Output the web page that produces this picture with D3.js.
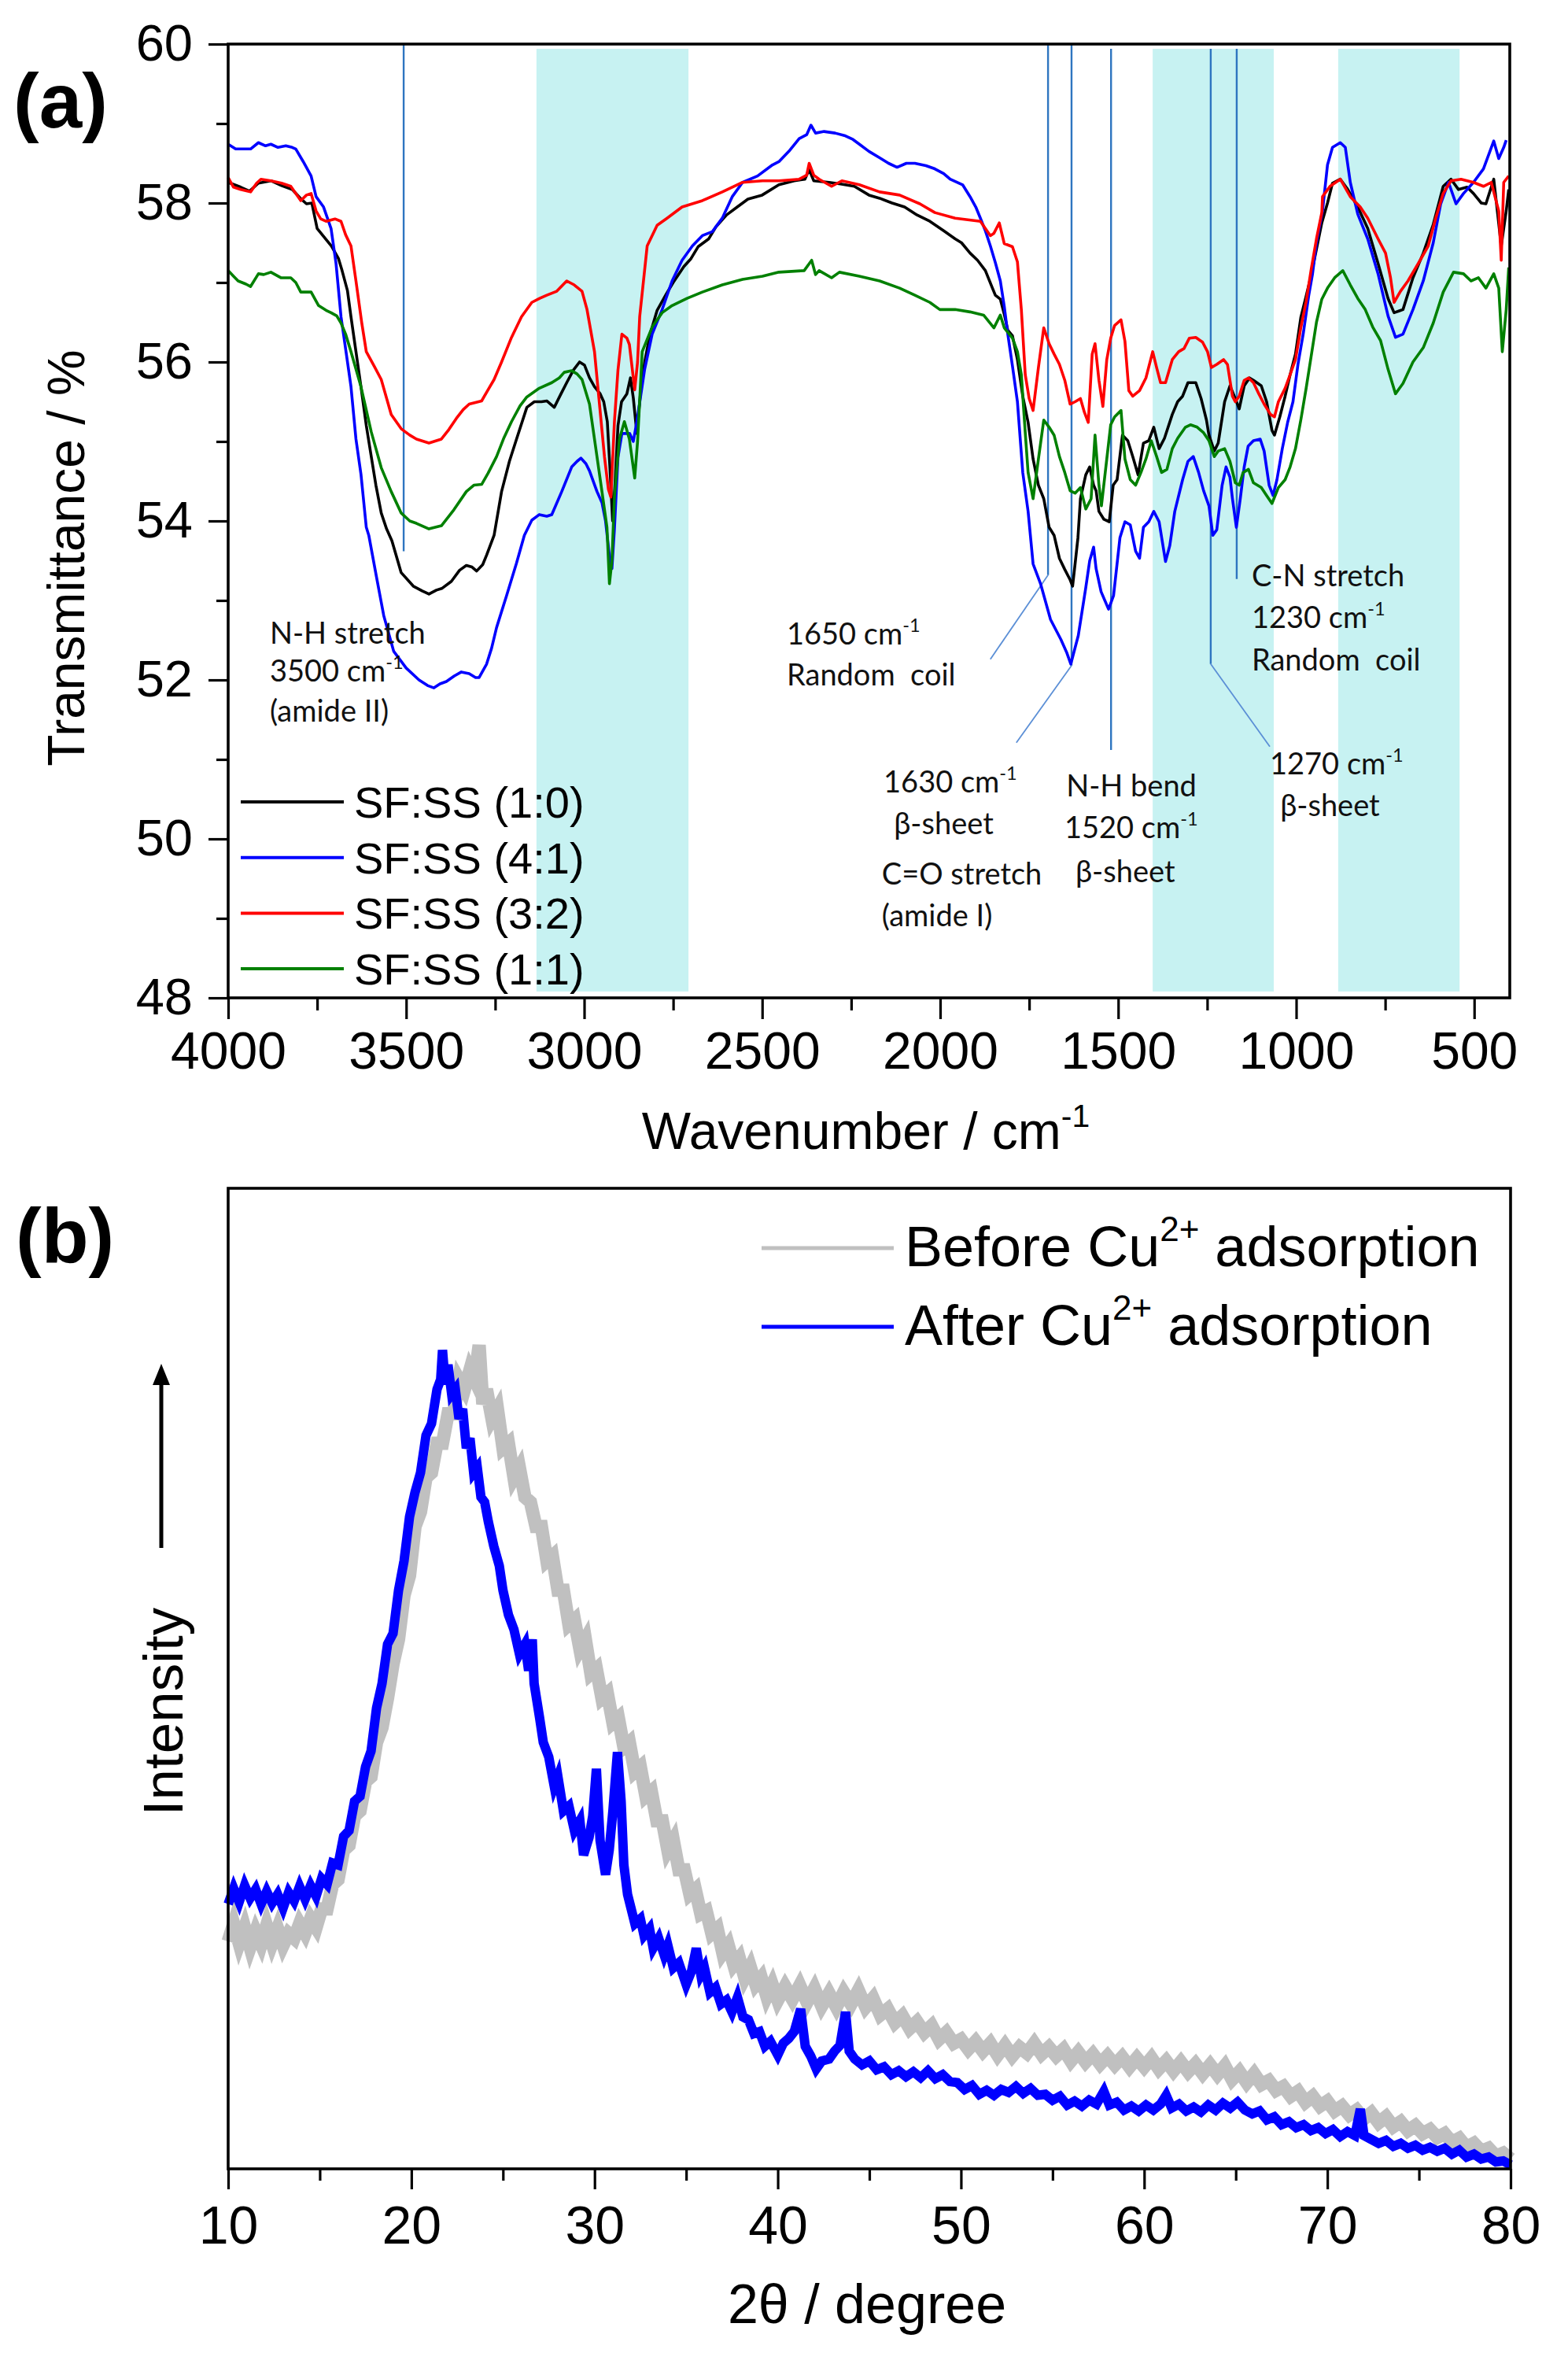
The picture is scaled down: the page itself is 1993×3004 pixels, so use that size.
<!DOCTYPE html>
<html><head><meta charset="utf-8">
<script src="https://cdn.jsdelivr.net/npm/d3@7"></script>
<style>body{margin:0;background:#fff}</style>
</head><body>
<svg id="c" width="1993" height="3004" xmlns="http://www.w3.org/2000/svg"></svg>
<script>
// ---------------- DATA: panel (a) FTIR ----------------
const ftirXTicks = [4000,3500,3000,2500,2000,1500,1000,500];
const ftirXMinor = [3750,3250,2750,2250,1750,1250,750];
const ftirYTicks = [48,50,52,54,56,58,60];
const ftirYMinor = [49,51,53,55,57,59];
const ftirNames = ["SF:SS (1:0)","SF:SS (4:1)","SF:SS (3:2)","SF:SS (1:1)"];
const ftirBands = [[3134,2707],[1403,1063],[882,541]];

const ftirBlack = [[4000,58.26],[3965,58.2],[3940,58.15],[3915,58.25],[3880,58.28],[3850,58.22],[3820,58.17],[3795,58.05],[3780,57.99],[3765,58.0],[3750,57.68],[3710,57.46],[3690,57.3],[3680,57.15],[3665,56.9],[3655,56.57],[3640,56.1],[3627,55.69],[3612,55.2],[3598,54.81],[3585,54.45],[3570,54.1],[3555,53.9],[3540,53.75],[3514,53.35],[3480,53.18],[3455,53.12],[3436,53.08],[3415,53.13],[3400,53.15],[3373,53.24],[3350,53.38],[3331,53.44],[3315,53.42],[3302,53.37],[3285,53.45],[3274,53.57],[3253,53.82],[3232,54.37],[3210,54.75],[3190,55.03],[3161,55.43],[3140,55.5],[3120,55.5],[3105,55.51],[3084,55.43],[3065,55.6],[3049,55.74],[3030,55.9],[3013,56.0],[2999,55.96],[2985,55.8],[2971,55.69],[2955,55.6],[2945,55.5],[2935,55.25],[2928,54.7],[2920,54.0],[2913,54.5],[2905,55.2],[2895,55.5],[2880,55.6],[2870,55.8],[2862,55.55],[2852,55.1],[2842,55.6],[2830,56.0],[2815,56.35],[2795,56.65],[2770,56.85],[2750,57.0],[2720,57.2],[2700,57.3],[2680,57.45],[2650,57.55],[2630,57.7],[2600,57.85],[2570,57.95],[2540,58.05],[2500,58.1],[2453,58.23],[2410,58.28],[2380,58.3],[2368,58.42],[2355,58.28],[2312,58.26],[2280,58.24],[2241,58.21],[2200,58.1],[2170,58.06],[2135,58.0],[2100,57.95],[2065,57.85],[2029,57.77],[1990,57.65],[1958,57.55],[1940,57.5],[1916,57.37],[1895,57.28],[1873,57.15],[1855,56.95],[1845,56.84],[1831,56.79],[1820,56.6],[1810,56.4],[1797,56.33],[1783,56.03],[1768,55.57],[1753,55.24],[1739,54.78],[1724,54.45],[1709,54.28],[1694,53.92],[1680,53.82],[1665,53.53],[1650,53.39],[1635,53.26],[1628,53.18],[1621,53.46],[1613,53.79],[1606,54.28],[1591,54.58],[1580,54.68],[1569,54.45],[1562,54.38],[1554,54.12],[1540,54.02],[1525,53.99],[1514,54.45],[1503,54.52],[1488,55.08],[1473,55.01],[1459,54.81],[1444,54.58],[1429,54.98],[1414,55.01],[1400,55.18],[1385,54.91],[1370,55.04],[1348,55.34],[1333,55.5],[1319,55.57],[1304,55.74],[1282,55.74],[1267,55.54],[1252,55.27],[1245,55.08],[1230,54.88],[1219,54.98],[1201,55.5],[1186,55.7],[1171,55.54],[1160,55.41],[1146,55.7],[1131,55.8],[1120,55.77],[1098,55.7],[1083,55.5],[1068,55.14],[1061,55.08],[1046,55.31],[1031,55.57],[1017,55.84],[1002,56.1],[987,56.56],[972,56.83],[958,57.09],[943,57.42],[928,57.75],[912,58.0],[898,58.25],[876,58.3],[855,58.17],[827,57.95],[799,57.68],[770,57.24],[742,56.8],[725,56.62],[700,56.66],[672,57.06],[643,57.37],[615,57.73],[587,58.21],[565,58.3],[544,58.17],[520,58.2],[502,58.12],[480,58.0],[467,57.99],[445,58.3],[435,57.9],[424,57.46],[410,57.9],[403,58.17]];

const ftirBlue = [[4000,58.74],[3979,58.68],[3955,58.68],[3937,58.68],[3915,58.76],[3895,58.72],[3880,58.74],[3860,58.7],[3838,58.72],[3820,58.7],[3810,58.68],[3789,58.52],[3767,58.34],[3753,58.08],[3732,57.95],[3711,57.68],[3697,57.24],[3683,56.57],[3669,56.13],[3655,55.69],[3641,55.03],[3627,54.59],[3612,53.92],[3605,53.82],[3584,53.31],[3563,52.81],[3535,52.36],[3500,52.15],[3464,52.0],[3440,51.93],[3422,51.9],[3405,51.95],[3387,51.98],[3365,52.05],[3345,52.1],[3323,52.08],[3305,52.03],[3295,52.03],[3274,52.2],[3260,52.4],[3246,52.66],[3218,53.06],[3190,53.47],[3168,53.82],[3147,54.01],[3126,54.08],[3105,54.06],[3091,54.08],[3063,54.37],[3035,54.68],[3020,54.75],[3009,54.79],[2995,54.72],[2985,54.63],[2964,54.37],[2950,54.23],[2940,54.0],[2930,53.6],[2922,53.4],[2915,53.9],[2905,54.8],[2894,55.1],[2872,55.1],[2862,55.0],[2852,55.25],[2830,55.91],[2809,56.35],[2781,56.66],[2753,57.02],[2725,57.28],[2696,57.46],[2668,57.59],[2640,57.64],[2612,57.81],[2584,58.08],[2555,58.26],[2513,58.34],[2471,58.48],[2453,58.52],[2425,58.65],[2396,58.81],[2375,58.86],[2363,58.98],[2350,58.88],[2326,58.9],[2295,58.88],[2269,58.85],[2245,58.8],[2227,58.74],[2200,58.65],[2170,58.57],[2145,58.5],[2121,58.45],[2095,58.5],[2071,58.5],[2040,58.47],[2015,58.43],[1990,58.37],[1972,58.3],[1937,58.23],[1916,58.08],[1900,57.95],[1887,57.81],[1873,57.65],[1859,57.46],[1845,57.25],[1831,57.02],[1820,56.7],[1810,56.35],[1797,55.95],[1783,55.5],[1768,54.61],[1753,54.12],[1739,53.46],[1718,53.21],[1690,52.76],[1661,52.51],[1645,52.35],[1633,52.2],[1612,52.56],[1591,53.16],[1580,53.5],[1569,53.67],[1562,53.4],[1548,53.11],[1527,52.89],[1513,53.06],[1495,53.79],[1481,53.99],[1466,53.95],[1451,53.62],[1440,53.53],[1429,53.92],[1414,53.99],[1400,54.12],[1385,53.99],[1367,53.49],[1355,53.69],[1341,54.12],[1319,54.52],[1304,54.75],[1289,54.81],[1274,54.61],[1260,54.38],[1245,54.19],[1234,53.82],[1223,53.89],[1208,54.45],[1197,54.68],[1186,54.55],[1179,54.28],[1168,53.92],[1157,54.28],[1146,54.68],[1135,54.94],[1120,55.01],[1101,55.03],[1090,54.88],[1076,54.45],[1065,54.32],[1054,54.52],[1039,54.91],[1024,55.24],[1009,55.5],[995,55.97],[980,56.36],[965,56.83],[954,57.11],[943,57.5],[926,57.9],[912,58.48],[898,58.7],[876,58.76],[862,58.7],[848,58.26],[827,57.86],[799,57.55],[770,57.11],[742,56.58],[721,56.31],[700,56.35],[672,56.66],[643,57.02],[615,57.5],[594,57.99],[572,58.26],[551,57.99],[530,58.12],[502,58.26],[474,58.43],[445,58.78],[431,58.56],[417,58.7],[410,58.79]];

const ftirRed = [[4000,58.32],[3985,58.2],[3965,58.17],[3937,58.14],[3920,58.25],[3908,58.3],[3880,58.28],[3850,58.25],[3824,58.21],[3796,58.03],[3780,58.1],[3767,58.12],[3753,57.9],[3740,57.8],[3725,57.77],[3700,57.8],[3683,57.77],[3670,57.6],[3655,57.46],[3641,57.02],[3625,56.5],[3612,56.13],[3590,55.95],[3570,55.78],[3542,55.34],[3514,55.16],[3490,55.08],[3471,55.03],[3436,54.98],[3401,55.03],[3380,55.15],[3359,55.29],[3340,55.4],[3323,55.47],[3288,55.51],[3270,55.65],[3253,55.78],[3232,56.0],[3204,56.31],[3176,56.57],[3147,56.75],[3125,56.8],[3105,56.84],[3077,56.89],[3049,57.02],[3028,56.97],[3006,56.89],[2992,56.66],[2971,56.13],[2957,55.47],[2943,54.81],[2932,54.4],[2925,54.3],[2915,55.25],[2905,55.9],[2894,56.35],[2880,56.3],[2873,56.22],[2858,55.65],[2850,56.0],[2844,56.57],[2823,57.46],[2795,57.72],[2767,57.81],[2725,57.95],[2668,58.03],[2612,58.14],[2555,58.26],[2499,58.28],[2453,58.28],[2396,58.3],[2375,58.35],[2368,58.5],[2355,58.35],[2340,58.3],[2305,58.21],[2276,58.28],[2227,58.23],[2170,58.14],[2114,58.1],[2057,57.99],[2015,57.88],[1958,57.81],[1887,57.77],[1859,57.59],[1849,57.62],[1834,57.75],[1820,57.49],[1797,57.45],[1783,57.26],[1772,56.66],[1761,55.84],[1750,55.54],[1739,55.39],[1724,55.93],[1709,56.43],[1694,56.23],[1680,56.1],[1665,55.97],[1650,55.77],[1635,55.47],[1621,55.5],[1606,55.54],[1595,55.37],[1584,55.24],[1573,56.1],[1565,56.23],[1554,55.77],[1543,55.44],[1532,56.03],[1521,56.3],[1510,56.46],[1492,56.53],[1481,56.26],[1470,55.64],[1459,55.57],[1440,55.64],[1422,55.8],[1403,56.13],[1392,55.93],[1381,55.74],[1367,55.74],[1348,56.03],[1330,56.13],[1315,56.17],[1300,56.3],[1282,56.31],[1263,56.25],[1249,56.13],[1238,55.93],[1223,55.97],[1204,56.03],[1193,55.97],[1179,55.57],[1171,55.5],[1160,55.57],[1146,55.77],[1134,55.8],[1120,55.74],[1105,55.6],[1090,55.47],[1072,55.34],[1061,55.31],[1050,55.5],[1031,55.67],[1017,55.84],[1002,56.03],[987,56.43],[972,56.76],[958,57.16],[943,57.55],[928,57.88],[926,58.08],[905,58.21],[876,58.3],[848,58.08],[820,57.95],[799,57.81],[770,57.55],[749,57.37],[735,57.06],[725,56.75],[707,56.89],[686,57.02],[657,57.24],[629,57.46],[608,57.81],[587,58.12],[565,58.28],[537,58.3],[502,58.26],[474,58.21],[452,58.26],[431,57.9],[424,57.28],[417,58.26],[403,58.34]];

const ftirGreen = [[4000,57.15],[3985,57.08],[3972,57.02],[3950,56.98],[3937,56.95],[3915,57.11],[3900,57.1],[3880,57.13],[3852,57.06],[3824,57.06],[3810,57.0],[3796,56.88],[3767,56.88],[3746,56.71],[3725,56.65],[3711,56.62],[3695,56.58],[3683,56.49],[3670,56.35],[3655,56.13],[3627,55.69],[3598,55.12],[3570,54.67],[3542,54.37],[3514,54.1],[3490,54.0],[3471,53.97],[3436,53.9],[3401,53.94],[3366,54.14],[3331,54.37],[3310,54.45],[3288,54.46],[3270,54.6],[3246,54.81],[3225,55.05],[3204,55.25],[3180,55.45],[3161,55.56],[3126,55.67],[3091,55.74],[3070,55.8],[3056,55.87],[3035,55.89],[3020,55.85],[3006,55.78],[2985,55.47],[2964,54.81],[2950,54.37],[2936,53.92],[2929,53.21],[2922,53.5],[2915,54.3],[2901,55.03],[2887,55.25],[2873,55.03],[2858,54.54],[2850,55.0],[2837,56.13],[2809,56.44],[2781,56.62],[2753,56.71],[2711,56.8],[2668,56.88],[2612,56.97],[2555,57.04],[2499,57.08],[2453,57.13],[2382,57.15],[2361,57.28],[2350,57.1],[2340,57.15],[2305,57.06],[2283,57.13],[2227,57.08],[2170,57.02],[2114,56.93],[2071,56.84],[2029,56.75],[2001,56.66],[1958,56.66],[1916,56.63],[1878,56.59],[1849,56.43],[1831,56.59],[1820,56.43],[1797,56.3],[1783,56.13],[1772,55.84],[1761,55.11],[1753,54.61],[1739,54.28],[1724,54.78],[1709,55.27],[1694,55.18],[1680,55.08],[1665,54.81],[1650,54.61],[1635,54.38],[1621,54.35],[1606,54.42],[1591,54.15],[1576,54.28],[1565,55.08],[1554,54.45],[1547,54.19],[1532,54.78],[1521,55.21],[1510,55.31],[1492,55.39],[1481,54.78],[1466,54.52],[1451,54.45],[1436,54.61],[1422,54.78],[1407,55.01],[1392,54.81],[1378,54.61],[1363,54.65],[1348,54.91],[1333,55.04],[1311,55.18],[1297,55.21],[1278,55.18],[1260,55.11],[1245,55.01],[1230,54.81],[1219,54.88],[1201,54.91],[1186,54.75],[1171,54.48],[1160,54.45],[1149,54.61],[1134,54.65],[1120,54.48],[1098,54.42],[1083,54.32],[1068,54.22],[1050,54.42],[1031,54.52],[1017,54.68],[1002,54.91],[987,55.27],[972,55.67],[958,56.07],[943,56.5],[928,56.79],[912,56.93],[892,57.06],[869,57.15],[848,56.97],[827,56.8],[806,56.66],[785,56.44],[763,56.27],[742,55.91],[721,55.6],[700,55.73],[672,56.0],[643,56.18],[615,56.49],[587,56.88],[558,57.13],[530,57.11],[509,57.02],[488,57.06],[467,56.93],[445,57.11],[431,56.93],[421,56.13],[410,56.66],[403,57.19]];

// marker lines (wavenumber, top T, bottom T, optional leader end)
const ftirMarkers = [
  {wn:3507, top:60, bottom:53.62},
  {wn:1697, top:60, bottom:53.32, lead:[1859,52.26]},
  {wn:1631, top:60, bottom:52.18, lead:[1786,51.21]},
  {wn:1520, top:59.94, bottom:51.12},
  {wn:1240, top:59.94, bottom:52.2, lead:[1074,51.16]},
  {wn:1167, top:59.94, bottom:53.27}
];
// annotation texts: [text, wavenumber, transmittance]  ("^" starts superscript)
const ftirNotes = [
  ["N-H stretch",3883,52.46],["3500 cm^-1",3883,51.98],["(amide II)",3883,51.48],
  ["1650 cm^-1",2431,52.45],["Random  coil",2431,51.93],
  ["1630 cm^-1",2159,50.58],["\u03B2-sheet",2130,50.06],["C=O stretch",2164,49.43],["(amide I)",2164,48.90],
  ["N-H bend",1646,50.53],["1520 cm^-1",1651,50.01],["\u03B2-sheet",1620,49.46],
  ["C-N stretch",1125,53.18],["1230 cm^-1",1125,52.65],["Random  coil",1125,52.12],
  ["1270 cm^-1",1074,50.81],["\u03B2-sheet",1045,50.29]
];

// ---------------- DATA: panel (b) XRD ----------------
const xrdXTicks = [10,20,30,40,50,60,70,80];
const xrdXMinor = [15,25,35,45,55,65,75];
const xrdNames = ["Before Cu", "After Cu"];
const xrdBefore = [[10.0,23.2],[10.3,25.0],[10.6,23.0],[10.9,24.6],[11.2,22.6],[11.5,24.2],[11.8,22.9],[12.1,24.8],[12.4,23.0],[12.7,24.5],[13.0,22.8],[13.3,24.0],[13.6,23.5],[13.9,25.0],[14.2,24.0],[14.5,25.5],[14.8,24.6],[15.1,26.5],[15.4,26.5],[15.7,29.0],[16.0,29.5],[16.3,32.5],[16.6,33.0],[16.9,36.0],[17.2,36.5],[17.5,39.5],[17.8,40.0],[18.1,43.5],[18.4,45.0],[18.7,48.0],[19.0,51.5],[19.3,54.0],[19.6,58.5],[19.9,60.5],[20.2,65.5],[20.5,67.0],[20.8,70.5],[21.1,71.0],[21.4,74.0],[21.7,74.0],[22.0,77.0],[22.3,77.0],[22.6,80.5],[22.9,79.5],[23.2,81.5],[23.45,80.5],[23.7,84.0],[23.9,78.0],[24.1,79.5],[24.4,76.5],[24.7,77.5],[25.0,73.5],[25.3,74.0],[25.6,70.5],[25.9,71.5],[26.2,68.5],[26.5,68.0],[26.8,65.5],[27.1,65.5],[27.4,62.0],[27.7,62.5],[28.0,59.0],[28.3,59.0],[28.6,55.5],[28.9,56.0],[29.2,53.0],[29.5,54.0],[29.8,50.5],[30.1,51.0],[30.4,48.0],[30.7,48.5],[31.0,45.5],[31.3,46.0],[31.6,43.0],[31.9,43.5],[32.2,40.5],[32.5,41.0],[32.8,38.0],[33.1,38.5],[33.4,35.5],[33.7,35.5],[34.0,32.5],[34.3,33.5],[34.6,30.5],[34.9,30.5],[35.2,28.0],[35.5,28.5],[35.8,26.0],[36.1,26.3],[36.4,24.0],[36.7,24.5],[37.0,22.0],[37.3,22.8],[37.6,20.8],[37.9,21.5],[38.2,19.5],[38.5,20.6],[38.8,18.8],[39.1,19.5],[39.4,17.6],[39.7,18.8],[40.0,17.2],[40.4,18.6],[40.8,17.3],[41.2,18.7],[41.6,17.0],[42.0,18.4],[42.4,16.6],[42.8,17.9],[43.2,16.5],[43.6,18.0],[44.0,16.8],[44.4,18.2],[44.8,16.5],[45.2,17.4],[45.6,15.7],[46.0,16.3],[46.4,14.9],[46.8,15.6],[47.2,14.3],[47.6,15.0],[48.0,13.9],[48.4,14.6],[48.8,13.2],[49.2,13.9],[49.6,12.8],[50.0,13.2],[50.4,12.2],[50.8,13.0],[51.2,12.0],[51.6,12.8],[52.0,11.6],[52.4,12.6],[52.8,11.5],[53.2,12.4],[53.6,11.8],[54.0,12.8],[54.4,11.7],[54.8,12.4],[55.2,11.5],[55.6,12.2],[56.0,11.0],[56.4,11.9],[56.8,10.9],[57.2,11.7],[57.6,10.7],[58.0,11.5],[58.4,10.6],[58.8,11.4],[59.2,10.4],[59.6,11.3],[60.0,10.4],[60.4,11.3],[60.8,10.2],[61.2,11.0],[61.6,10.0],[62.0,10.9],[62.4,9.9],[62.8,10.7],[63.2,9.7],[63.6,10.6],[64.0,9.6],[64.4,10.5],[64.8,9.1],[65.2,9.9],[65.6,8.8],[66.0,9.7],[66.4,8.6],[66.8,9.0],[67.2,8.0],[67.6,8.4],[68.0,7.4],[68.4,7.9],[68.8,6.8],[69.2,7.4],[69.6,6.4],[70.0,6.9],[70.4,5.9],[70.8,6.4],[71.2,5.5],[71.6,6.0],[72.0,5.1],[72.4,5.7],[72.8,4.7],[73.2,5.3],[73.6,4.3],[74.0,4.8],[74.4,3.9],[74.8,4.4],[75.2,3.6],[75.6,4.0],[76.0,3.2],[76.4,3.6],[76.8,2.7],[77.2,3.1],[77.6,2.2],[78.0,2.6],[78.4,1.8],[78.8,2.1],[79.2,1.3],[79.6,1.6],[80.0,1.0]];

const xrdAfter = [[10.0,27.0],[10.3,28.6],[10.6,27.2],[10.9,28.9],[11.2,27.6],[11.5,28.5],[11.8,27.0],[12.1,28.3],[12.4,27.1],[12.7,28.0],[13.0,26.6],[13.3,28.2],[13.6,27.3],[13.9,28.8],[14.2,27.5],[14.5,28.9],[14.8,27.8],[15.1,29.6],[15.4,29.0],[15.7,31.2],[16.0,31.0],[16.3,33.9],[16.6,34.5],[16.9,37.5],[17.2,38.0],[17.5,41.0],[17.8,42.6],[18.1,47.0],[18.4,49.5],[18.7,53.5],[19.0,54.6],[19.3,59.0],[19.6,62.0],[19.9,66.5],[20.2,69.0],[20.5,71.0],[20.8,74.8],[21.1,76.0],[21.4,79.5],[21.6,80.5],[21.7,83.5],[21.85,80.0],[22.0,82.0],[22.2,79.0],[22.4,79.5],[22.6,76.5],[22.8,77.5],[23.0,73.5],[23.2,74.5],[23.4,71.0],[23.6,71.5],[23.8,68.5],[24.0,68.0],[24.2,66.0],[24.5,63.5],[24.8,61.5],[25.0,59.0],[25.3,56.5],[25.6,55.0],[25.9,52.5],[26.2,53.5],[26.4,50.8],[26.6,54.0],[26.7,49.5],[27.0,46.0],[27.2,43.5],[27.5,42.0],[27.8,39.0],[28.0,40.0],[28.3,36.5],[28.6,37.0],[28.9,34.5],[29.2,35.5],[29.4,32.0],[29.7,33.8],[29.9,36.0],[30.1,40.8],[30.3,33.5],[30.6,30.0],[30.8,32.5],[31.0,36.5],[31.25,42.5],[31.45,37.5],[31.6,31.0],[31.8,28.0],[32.0,26.5],[32.2,25.0],[32.5,25.5],[32.7,23.8],[33.0,24.5],[33.2,22.5],[33.5,23.5],[33.8,21.8],[34.0,22.8],[34.3,20.5],[34.6,21.0],[35.0,18.8],[35.3,20.2],[35.55,22.5],[35.8,19.8],[36.0,20.5],[36.3,18.0],[36.6,18.5],[36.9,16.8],[37.2,17.2],[37.5,16.0],[37.8,17.5],[38.1,15.5],[38.4,15.2],[38.7,13.8],[39.0,14.0],[39.3,12.5],[39.6,13.0],[40.0,11.6],[40.3,12.8],[40.6,13.3],[40.9,14.0],[41.25,16.3],[41.5,12.5],[41.8,11.5],[42.1,10.2],[42.4,11.0],[42.8,11.2],[43.1,12.0],[43.4,12.6],[43.7,16.0],[43.9,12.0],[44.2,11.2],[44.6,10.6],[45.0,11.0],[45.4,10.1],[45.8,10.4],[46.2,9.6],[46.6,10.0],[47.0,9.4],[47.4,9.9],[47.8,9.3],[48.2,10.0],[48.6,9.2],[49.0,9.6],[49.4,8.9],[49.8,8.8],[50.2,8.1],[50.6,8.5],[51.0,7.6],[51.4,8.0],[51.8,7.5],[52.2,8.1],[52.6,7.8],[53.0,8.4],[53.4,7.7],[53.8,8.2],[54.2,7.5],[54.6,7.6],[55.0,7.0],[55.4,7.4],[55.8,6.5],[56.2,6.9],[56.6,6.4],[57.0,7.0],[57.4,6.6],[57.8,7.9],[58.1,6.5],[58.5,6.8],[58.9,6.0],[59.3,6.4],[59.7,5.9],[60.1,6.5],[60.5,6.0],[60.9,6.6],[61.2,7.5],[61.5,6.2],[61.9,6.6],[62.3,5.9],[62.7,6.3],[63.1,5.8],[63.5,6.5],[63.9,6.0],[64.3,6.7],[64.7,6.2],[65.1,6.8],[65.5,6.0],[65.9,5.6],[66.3,5.9],[66.7,5.0],[67.1,5.3],[67.5,4.5],[67.9,4.8],[68.3,4.2],[68.7,4.5],[69.1,3.9],[69.5,4.2],[69.9,3.6],[70.3,4.0],[70.7,3.3],[71.1,3.8],[71.5,3.4],[71.8,6.1],[72.0,3.4],[72.4,3.0],[72.8,2.6],[73.2,2.9],[73.6,2.3],[74.0,2.6],[74.4,2.1],[74.8,2.4],[75.2,1.9],[75.6,2.2],[76.0,1.8],[76.4,2.1],[76.8,1.5],[77.2,1.9],[77.6,1.2],[78.0,1.5],[78.4,1.0],[78.8,1.2],[79.2,0.7],[79.6,0.8],[80.0,0.4]];

// ---------------- DRAWING ----------------
const FONT = "'Liberation Sans', Arial, Helvetica, sans-serif";
const NOTE_FONT = "Lato, 'Open Sans', sans-serif";
const svg = d3.select("#c");
svg.append("rect").attr("width",1993).attr("height",3004).attr("fill","#fff");

function supText(sel, str, fs) {
  const parts = str.split("^");
  sel.append("tspan").text(parts[0]);
  if (parts.length > 1) sel.append("tspan").attr("font-size", fs*0.62).attr("dy", -fs*0.42).text(parts[1]);
}

function styleAxis(g, fs) {
  g.select(".domain").remove();
  g.selectAll("line").attr("stroke","#000").attr("stroke-width",3.2);
  g.selectAll("text").attr("font-family",FONT).attr("font-size",fs).attr("fill","#000");
}

// ===== Panel (a) =====
const aBox = {l:290, r:1919, t:56, b:1268};
const xA = d3.scaleLinear().domain([4000,400]).range([aBox.l, aBox.r]);
const yA = d3.scaleLinear().domain([48,60]).range([aBox.b, aBox.t]);
const gA = svg.append("g");

gA.selectAll("rect.band").data(ftirBands).join("rect").attr("class","band")
  .attr("x", d=>xA(d[0])).attr("width", d=>xA(d[1])-xA(d[0]))
  .attr("y", yA(59.94)).attr("height", yA(48.08)-yA(59.94))
  .attr("fill","#c7f2f2");

// marker lines
gA.selectAll("line.mk").data(ftirMarkers).join("line").attr("class","mk")
  .attr("x1", d=>xA(d.wn)).attr("x2", d=>xA(d.wn))
  .attr("y1", d=>yA(d.top)).attr("y2", d=>yA(d.bottom))
  .attr("stroke","#2e75c0").attr("stroke-width",2.4);
gA.selectAll("line.ld").data(ftirMarkers.filter(d=>d.lead)).join("line").attr("class","ld")
  .attr("x1", d=>xA(d.wn)).attr("y1", d=>yA(d.bottom))
  .attr("x2", d=>xA(d.lead[0])).attr("y2", d=>yA(d.lead[1]))
  .attr("stroke","#5b8fd6").attr("stroke-width",1.8);

const ftirSeries = [
  {name:ftirNames[0], data:ftirBlack, color:"#000000"},
  {name:ftirNames[1], data:ftirBlue, color:"#0000ff"},
  {name:ftirNames[2], data:ftirRed, color:"#ff0000"},
  {name:ftirNames[3], data:ftirGreen, color:"#008000"}
];
const lineA = d3.line().x(d=>xA(d[0])).y(d=>yA(d[1]));
gA.selectAll("path.ser").data(ftirSeries).join("path").attr("class","ser")
  .attr("d", d=>lineA(d.data)).attr("fill","none")
  .attr("stroke", d=>d.color).attr("stroke-width",3.6).attr("stroke-linejoin","round");

// annotations
ftirNotes.forEach(n => {
  const t = gA.append("text").attr("x", xA(n[1])).attr("y", yA(n[2]))
    .attr("font-family", NOTE_FONT).attr("font-size", 38).attr("fill","#111")
    .attr("xml:space","preserve").style("white-space","pre");
  supText(t, n[0], 38);
});

// axes
const axAx = gA.append("g").attr("transform",`translate(0,${aBox.b})`)
  .call(d3.axisBottom(xA).tickValues(ftirXTicks).tickSize(27).tickPadding(16).tickFormat(d3.format("d")));
styleAxis(axAx, 66);
const axAxm = gA.append("g").attr("transform",`translate(0,${aBox.b})`)
  .call(d3.axisBottom(xA).tickValues(ftirXMinor).tickSize(16).tickFormat(()=>""));
styleAxis(axAxm, 66);
const axAy = gA.append("g").attr("transform",`translate(${aBox.l},0)`)
  .call(d3.axisLeft(yA).tickValues(ftirYTicks).tickSize(25).tickPadding(20).tickFormat(d3.format("d")));
styleAxis(axAy, 65);
const axAym = gA.append("g").attr("transform",`translate(${aBox.l},0)`)
  .call(d3.axisLeft(yA).tickValues(ftirYMinor).tickSize(15).tickFormat(()=>""));
styleAxis(axAym, 65);

gA.append("rect").attr("x",aBox.l).attr("y",aBox.t).attr("width",aBox.r-aBox.l).attr("height",aBox.b-aBox.t)
  .attr("fill","none").attr("stroke","#000").attr("stroke-width",3.6);

// legend (a)
const legA = gA.append("g");
ftirSeries.forEach((s,i) => {
  const yy = 1019 + i*70.7;
  legA.append("line").attr("x1",306).attr("x2",437).attr("y1",yy).attr("y2",yy)
    .attr("stroke",s.color).attr("stroke-width",4);
  legA.append("text").attr("x",450).attr("y",yy+20).attr("font-family",FONT).attr("font-size",56)
    .attr("fill","#000").text(s.name);
});

// titles (a)
const tA = gA.append("text").attr("x",(aBox.l+aBox.r)/2 - 4).attr("y",1460).attr("text-anchor","middle")
  .attr("font-family",FONT).attr("font-size",66).attr("fill","#000");
supText(tA, "Wavenumber / cm^-1", 66);
gA.append("text").attr("transform","translate(107,709) rotate(-90)").attr("text-anchor","middle")
  .attr("font-family",FONT).attr("font-size",66).attr("fill","#000").text("Transmittance / %");
gA.append("text").attr("x",17).attr("y",162).attr("font-family",FONT).attr("font-weight","bold")
  .attr("font-size",98).attr("fill","#000").text("(a)");

// ===== Panel (b) =====
const bBox = {l:290, r:1920, t:1510, b:2756};
const xB = d3.scaleLinear().domain([10,80]).range([bBox.l, bBox.r]);
const yB = d3.scaleLinear().domain([0,100]).range([bBox.b, bBox.t]);
const gB = svg.append("g");
const lineB = d3.line().x(d=>xB(d[0])).y(d=>yB(d[1]));
gB.append("path").attr("d", lineB(xrdBefore)).attr("fill","none").attr("stroke","#c0c0c0")
  .attr("stroke-width",17).attr("stroke-linejoin","miter");
gB.append("path").attr("d", lineB(xrdAfter)).attr("fill","none").attr("stroke","#0000ff")
  .attr("stroke-width",12).attr("stroke-linejoin","miter");

const axBx = gB.append("g").attr("transform",`translate(0,${bBox.b})`)
  .call(d3.axisBottom(xB).tickValues(xrdXTicks).tickSize(26).tickPadding(21).tickFormat(d3.format("d")));
styleAxis(axBx, 68);
const axBxm = gB.append("g").attr("transform",`translate(0,${bBox.b})`)
  .call(d3.axisBottom(xB).tickValues(xrdXMinor).tickSize(15).tickFormat(()=>""));
styleAxis(axBxm, 68);

gB.append("rect").attr("x",bBox.l).attr("y",bBox.t).attr("width",bBox.r-bBox.l).attr("height",bBox.b-bBox.t)
  .attr("fill","none").attr("stroke","#000").attr("stroke-width",3.6);

// legend (b)
[[xrdNames[0],"#c0c0c0",1586],[xrdNames[1],"#0000ff",1686]].forEach(([nm,col,yy],i) => {
  gB.append("line").attr("x1",968).attr("x2",1136).attr("y1",yy).attr("y2",yy)
    .attr("stroke",col).attr("stroke-width",5);
  const t = gB.append("text").attr("x",1150).attr("y",yy+23).attr("font-family",FONT)
    .attr("font-size",72).attr("fill","#000");
  t.append("tspan").text(nm);
  t.append("tspan").attr("font-size",44).attr("dy",-32).text("2+");
  t.append("tspan").attr("dy",32).text(" adsorption");
});

// titles (b)
gB.append("text").attr("x",(bBox.l+bBox.r)/2 - 3).attr("y",2952).attr("text-anchor","middle")
  .attr("font-family",FONT).attr("font-size",70).attr("fill","#000").text("2\u03B8 / degree");
gB.append("text").attr("transform","translate(232,2175) rotate(-90)").attr("text-anchor","middle")
  .attr("font-family",FONT).attr("font-size",71).attr("fill","#000").text("Intensity");
gB.append("line").attr("x1",205).attr("x2",205).attr("y1",1967).attr("y2",1752)
  .attr("stroke","#000").attr("stroke-width",5);
gB.append("path").attr("d","M205,1733 L194,1760 L216,1760 Z").attr("fill","#000");
gB.append("text").attr("x",20).attr("y",1604).attr("font-family",FONT).attr("font-weight","bold")
  .attr("font-size",98).attr("fill","#000").text("(b)");
</script>
</body></html>
